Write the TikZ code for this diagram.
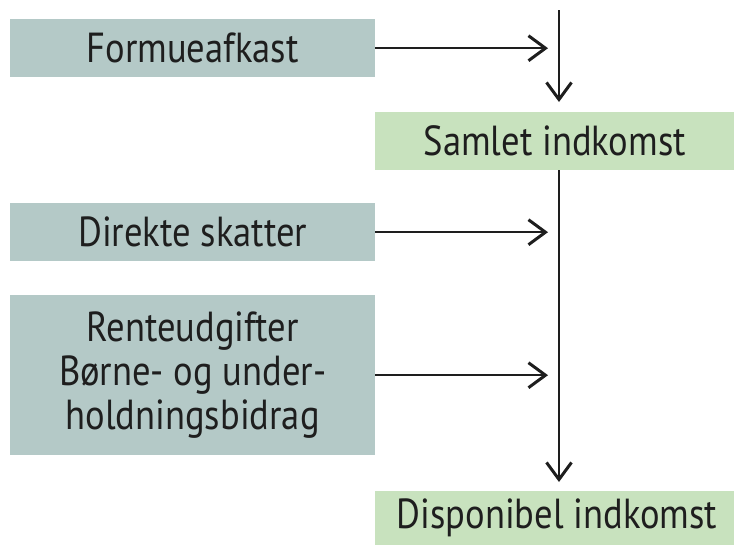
\documentclass[tikz,border=0pt]{standalone}
\usepackage{fontspec}
\setmainfont[FakeStretch=0.87]{PT Sans}
\usetikzlibrary{arrows.meta}
\definecolor{boxgray}{RGB}{180,201,199}
\definecolor{boxgreen}{RGB}{200,226,190}
\definecolor{ink}{RGB}{30,30,30}
\tikzset{
  graybox/.style={fill=boxgray, draw=none, inner sep=0pt, anchor=north west},
  greenbox/.style={fill=boxgreen, draw=none, inner sep=0pt, anchor=north west},
  lbl/.style={font=\fontsize{42}{44}\selectfont, text=ink, align=center},
  conn/.style={draw=ink, line width=2pt, -{Straight Barb[length=17pt,width=25pt,line width=3pt]}},
}
\begin{document}
\begin{tikzpicture}[x=1pt,y=-1pt]
\useasboundingbox (0,0) rectangle (734,544);
% boxes
\node[graybox, minimum width=365pt, minimum height=58pt] (fa) at (10,19) {};
\node[greenbox, minimum width=359pt, minimum height=58pt] (si) at (375,112) {};
\node[graybox, minimum width=365pt, minimum height=58pt] (ds) at (10,203) {};
\node[graybox, minimum width=365pt, minimum height=160pt] (ru) at (10,295) {};
\node[greenbox, minimum width=359pt, minimum height=60pt] (di) at (375,491) {};
% labels
\node[lbl] (tfa) at (fa.center) {Formueafkast};
\node[lbl] (tsi) at (si.center) {Samlet indkomst};
\node[lbl] (tds) at (ds.center) {Direkte skatter};
\node[lbl] (tru) at (ru.center) {Renteudgifter\\Børne- og under-\\holdningsbidrag};
\node[lbl] (tdi) at (557,518) {Disponibel indkomst};
% spine
\coordinate (top) at (559,10);
\path[conn, shorten >=10pt] (top) -- (top |- si.north);
\path[conn, shorten >=9pt] (top |- si.south) -- (top |- di.north);
% side arrows
\path[conn, shorten >=11pt] (fa.east) -- (fa.east -| top);
\path[conn, shorten >=11pt] (ds.east) -- (ds.east -| top);
\path[conn, shorten >=11pt] (ru.east) -- (ru.east -| top);
\end{tikzpicture}
\end{document}
